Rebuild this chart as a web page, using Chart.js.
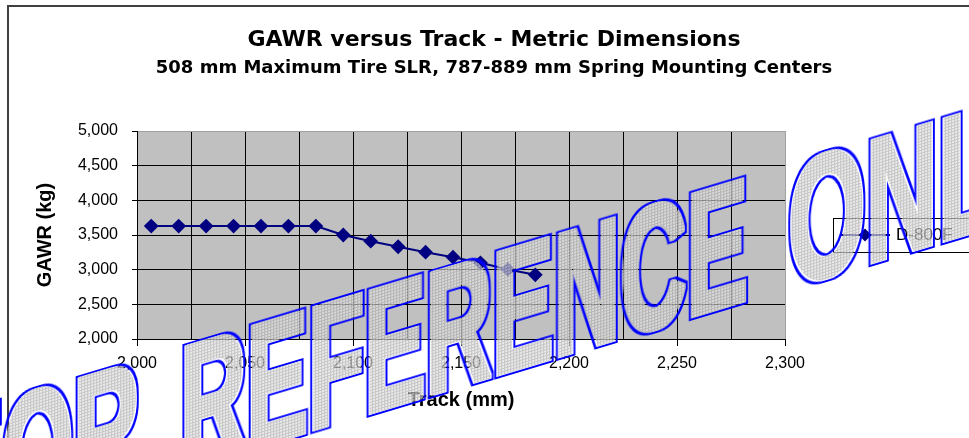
<!DOCTYPE html>
<html>
<head>
<meta charset="utf-8">
<script src="https://cdn.jsdelivr.net/npm/chart.js@4/dist/chart.umd.min.js"></script>
<style>
  html, body { margin: 0; padding: 0; background: #fff; }
  #wrap { position: relative; width: 969px; height: 438px; overflow: hidden; }
  #chart { position: absolute; left: 0; top: 0; }
  #wm { position: absolute; left: 0; top: 0; pointer-events: none; }
</style>
</head>
<body>
<div id="wrap">
  <canvas id="chart" width="969" height="438"></canvas>
  <svg id="wm" width="969" height="438">
    <defs>
      <pattern id="dots" width="3" height="3" patternUnits="userSpaceOnUse">
        <rect width="3" height="3" fill="#e4e4e4"/>
        <rect width="3" height="1" fill="#b0b0b0"/>
        <rect width="1" height="3" fill="#b0b0b0"/>
      </pattern>
      <filter id="ring" x="-5%" y="-5%" width="110%" height="110%">
        <feMorphology in="SourceAlpha" operator="dilate" radius="3.5" result="outer"/>
        <feMorphology in="SourceAlpha" operator="dilate" radius="1.5" result="inner"/>
        <feComposite in="outer" in2="inner" operator="out" result="band"/>
        <feFlood flood-color="#0000ff"/>
        <feComposite in2="band" operator="in"/>
      </filter>
      <text id="wmText" font-family="Liberation Sans, Arial, sans-serif" font-weight="bold" font-size="177">
        <tspan x="-55" y="524" textLength="195" lengthAdjust="spacingAndGlyphs">FOR</tspan>
        <tspan x="180" y="524" textLength="568" lengthAdjust="spacingAndGlyphs">REFERENCE</tspan>
        <tspan x="788" y="524" textLength="268" lengthAdjust="spacingAndGlyphs">ONLY</tspan>
      </text>
    </defs>
    <g transform="skewY(-16.7)">
      <use href="#wmText" fill="#000" filter="url(#ring)"/>
      <g opacity="0.72">
        <use href="#wmText" fill="url(#dots)" stroke="url(#dots)" stroke-width="3" stroke-linejoin="round"/>
      </g>
    </g>
  </svg>
</div>
<script>
// data
var seriesName = 'D-800F';
var trackMm = [2006.6, 2019.3, 2032.0, 2044.7, 2057.4, 2070.1, 2082.8, 2095.5,
               2108.2, 2120.9, 2133.6, 2146.3, 2159.0, 2171.7, 2184.4];
var gawrKg = [3629, 3629, 3629, 3629, 3629, 3629, 3629, 3500,
              3411, 3330, 3252, 3180, 3099, 3003, 2926];
var xTicks = [2000, 2050, 2100, 2150, 2200, 2250, 2300];
var yTicks = [2000, 2500, 3000, 3500, 4000, 4500, 5000];

var navy = '#000080';
var points = trackMm.map(function (t, i) { return { x: t, y: gawrKg[i] }; });

// gray plot area + outer frame
var backdrop = {
    id: 'backdrop',
    beforeDraw: function (chart) {
        var ctx = chart.ctx, a = chart.chartArea;
        ctx.save();
        ctx.fillStyle = '#c0c0c0';
        ctx.fillRect(a.left, a.top, a.right - a.left, a.bottom - a.top);
        ctx.strokeStyle = '#404040';
        ctx.lineWidth = 2;
        ctx.strokeRect(8, 6, 2000, 2000);
        ctx.restore();
    }
};

// legend box sitting right of the plot
var sideLegend = {
    id: 'sideLegend',
    afterDraw: function (chart) {
        var ctx = chart.ctx;
        var ds = chart.data.datasets[0];
        ctx.save();
        ctx.fillStyle = '#fff';
        ctx.fillRect(833, 218, 200, 34);
        ctx.strokeStyle = '#000';
        ctx.lineWidth = 1;
        ctx.strokeRect(833.5, 218.5, 200, 34);
        ctx.strokeStyle = ds.borderColor;
        ctx.lineWidth = 2;
        ctx.beginPath();
        ctx.moveTo(840, 235);
        ctx.lineTo(890, 235);
        ctx.stroke();
        ctx.fillStyle = ds.pointBackgroundColor;
        Chart.helpers.drawPoint(ctx, { pointStyle: 'rectRot', radius: 5, borderWidth: 1 }, 865, 235);
        ctx.fillStyle = '#000';
        ctx.font = '17px "Liberation Sans"';
        ctx.textBaseline = 'middle';
        ctx.fillText(ds.label, 896, 235);
        ctx.restore();
    }
};

var chart = new Chart(document.getElementById('chart'), {
    type: 'line',
    data: {
        datasets: [{
            label: seriesName,
            data: points,
            borderColor: navy,
            backgroundColor: navy,
            borderWidth: 2,
            pointStyle: 'rectRot',
            pointRadius: 6,
            pointBackgroundColor: navy,
            pointBorderColor: navy,
            tension: 0
        }]
    },
    options: {
        responsive: false,
        animation: false,
        layout: { padding: { left: 19 } },
        plugins: {
            legend: { display: false },
            tooltip: { enabled: false },
            title: {
                display: true,
                text: 'GAWR versus Track - Metric Dimensions',
                color: '#000',
                font: { family: 'DejaVu Sans', weight: 'bold', size: 22 },
                padding: { top: 27, bottom: 4 }
            },
            subtitle: {
                display: true,
                text: '508 mm Maximum Tire SLR, 787-889 mm Spring Mounting Centers',
                color: '#000',
                font: { family: 'DejaVu Sans', weight: 'bold', size: 18 },
                padding: { top: 0, bottom: 52 }
            }
        },
        scales: {
            x: {
                type: 'linear',
                min: xTicks[0],
                max: xTicks[xTicks.length - 1],
                afterFit: function (s) { s.height = 99; },
                ticks: {
                    stepSize: 25,
                    padding: 8,
                    color: '#000',
                    maxRotation: 0,
                    autoSkip: false,
                    font: { family: 'Liberation Sans', size: 16 },
                    callback: function (v) {
                        return xTicks.indexOf(v) >= 0 ? v.toLocaleString('en-US') : '';
                    }
                },
                grid: {
                    color: function (c) { return c.tick && c.tick.value === 2300 ? '#a0a0a0' : '#000'; },
                    tickColor: function (c) { return c.tick && c.tick.value % 50 === 0 ? '#000' : 'rgba(0,0,0,0)'; },
                    tickLength: 7,
                    lineWidth: 1
                },
                border: { color: '#000', width: 1 },
                title: {
                    display: true,
                    text: 'Track (mm)',
                    color: '#000',
                    font: { family: 'Liberation Sans', weight: 'bold', size: 20 },
                    padding: { top: 0, bottom: 26 }
                }
            },
            y: {
                min: yTicks[0],
                max: yTicks[yTicks.length - 1],
                afterFit: function (s) { s.width = 118; },
                ticks: {
                    stepSize: 500,
                    padding: 14,
                    color: '#000',
                    font: { family: 'Liberation Sans', size: 16 },
                    callback: function (v) { return v.toLocaleString('en-US'); }
                },
                grid: {
                    color: function (c) { return c.tick && c.tick.value === 5000 ? '#a0a0a0' : '#000'; },
                    tickColor: '#000',
                    tickLength: 5,
                    lineWidth: 1
                },
                border: { color: '#000', width: 1 },
                title: {
                    display: true,
                    text: 'GAWR (kg)',
                    color: '#000',
                    font: { family: 'Liberation Sans', weight: 'bold', size: 20 },
                    padding: { top: 14, bottom: 0 }
                }
            },
            // empty right-hand strip where the legend sits
            side: {
                type: 'linear',
                position: 'right',
                display: true,
                afterFit: function (s) { s.width = 184; },
                ticks: { display: false },
                grid: { display: false, drawTicks: false },
                border: { display: false }
            }
        }
    },
    plugins: [backdrop, sideLegend]
});
</script>
</body>
</html>
